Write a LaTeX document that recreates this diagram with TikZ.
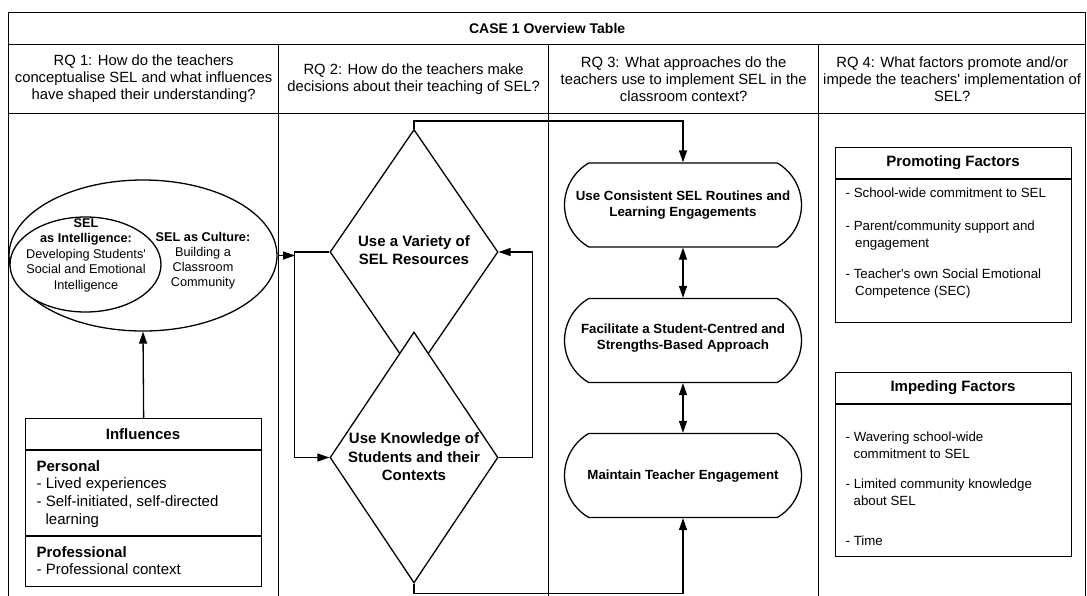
\documentclass[tikz,border=0pt]{standalone}
\usepackage{fontspec}
\setmainfont{Liberation Sans}
\usetikzlibrary{arrows.meta,shapes.geometric,shapes.misc}
\newcommand{\setfs}[2]{\fontsize{#1}{#2}\selectfont}
\newcommand{\apos}{\textquotesingle}

\begin{document}
\begin{tikzpicture}[x=1pt,y=-1pt,line width=1.3pt,
  cell/.style={draw,rectangle,inner sep=0pt,anchor=north west},
  hdr/.style={align=center,font=\setfs{14.8}{17}},
  arr/.style={-{Triangle[length=12pt,width=8pt]}},
  darr/.style={{Triangle[length=12pt,width=8pt]}-{Triangle[length=12pt,width=8pt]}},
  diam/.style={draw,diamond,fill=white,inner sep=0pt,minimum width=168pt},
  term/.style={draw,rounded rectangle,rounded rectangle arc length=120,inner sep=0pt,
               minimum width=237pt,minimum height=84pt},
  boldtxt/.style={align=center,inner sep=0pt},
  item/.style={anchor=north west,inner sep=0pt,align=left,font=\setfs{13.3}{17}},
  infitem/.style={anchor=north west,inner sep=0pt,align=left,font=\setfs{15}{17.7}},
  boxtitle/.style={inner sep=0pt,font=\bfseries\setfs{15}{18}}]
\useasboundingbox (0,0) rectangle (1087,595);

% table frame: title row, question row and four body columns
\node[cell,minimum width=1077pt,minimum height=32pt,font=\bfseries\setfs{14}{17}] (title) at (8,12) {CASE 1 Overview Table};
\node[cell,hdr,minimum width=270pt,minimum height=69pt] (h1) at (8,44)
  {RQ 1: How do the teachers\\conceptualise SEL and what influences\\have shaped their understanding?};
\node[cell,hdr,minimum width=270pt,minimum height=69pt] (h2) at (278,44)
  {RQ 2: How do the teachers make\\decisions about their teaching of SEL?};
\node[cell,hdr,minimum width=270pt,minimum height=69pt] (h3) at (548,44)
  {RQ 3: What approaches do the\\teachers use to implement SEL in the\\classroom context?};
\node[cell,hdr,minimum width=267pt,minimum height=69pt] (h4) at (818,44)
  {RQ 4: What factors promote and/or\\impede the teachers\apos{} implementation of\\SEL?};
\node[cell,minimum width=270pt,minimum height=486pt] (c1) at (8,113) {};
\node[cell,minimum width=270pt,minimum height=486pt] (c2) at (278,113) {};
\node[cell,minimum width=270pt,minimum height=486pt] (c3) at (548,113) {};
\node[cell,minimum width=267pt,minimum height=486pt] (c4) at (818,113) {};

% column 1: conceptions of SEL
\node[draw,ellipse,inner sep=0pt,minimum width=268pt,minimum height=151pt] (outer) at (143,255.5) {};
\node[draw,ellipse,fill=white,inner sep=0pt,minimum width=151pt,minimum height=95pt] (inner) at (85.5,264.5) {};
\node[boldtxt,font=\setfs{12.7}{15.5}] (intxt) at (86,255)
  {\textbf{SEL}\\\textbf{as Intelligence:}\\Developing Students\apos\\Social and Emotional\\Intelligence};
\node[boldtxt,font=\setfs{12.7}{15}] (outtxt) at (203,260.5)
  {\textbf{SEL as Culture:}\\Building a\\Classroom\\Community};

% column 1: influences box
\node[cell,minimum width=236pt,minimum height=168pt] (infl) at (25,418) {};
\draw (25,450) -- (261,450);
\draw (25,536) -- (261,536);
\node[boxtitle] (infltitle) at (143,434) {Influences};
\node[infitem] (personal) at (36,459.5)
  {\textbf{Personal}\\- Lived experiences\\- Self-initiated, self-directed\\\hspace*{9pt}learning};
\node[infitem,font=\setfs{15}{17}] (professional) at (36,545.5)
  {\textbf{Professional}\\- Professional context};

% column 2: decision diamonds
\node[diam,minimum height=245pt] (d1) at (414,252) {};
\node[diam,minimum height=251pt] (d2) at (414,457.5) {};
\node[boldtxt,font=\bfseries\setfs{15}{18}] (d1txt) at (414,250) {Use a Variety of\\SEL Resources};
\node[boldtxt,font=\bfseries\setfs{15}{18.5}] (d2txt) at (414,457) {Use Knowledge of\\Students and their\\Contexts};

% column 3: approaches
\node[term] (s1) at (683,205) {};
\node[term] (s2) at (683,340.5) {};
\node[term] (s3) at (683,475.5) {};
\node[boldtxt,font=\bfseries\setfs{13.3}{16}] (s1txt) at (683,205) {Use Consistent SEL Routines and\\Learning Engagements};
\node[boldtxt,font=\bfseries\setfs{13.3}{16.5}] (s2txt) at (683,338) {Facilitate a Student-Centred and\\Strengths-Based Approach};
\node[boldtxt,font=\bfseries\setfs{13.3}{16}] (s3txt) at (683,476) {Maintain Teacher Engagement};

% column 4: promoting and impeding factors
\node[cell,minimum width=236pt,minimum height=175pt] (pf) at (835,147) {};
\draw (835,179) -- (1071,179);
\node[boxtitle] (pftitle) at (953,163) {Promoting Factors};
\node[item] (pf1) at (845,187.1) {- School-wide commitment to SEL};
\node[item] (pf2) at (845,220.1) {- Parent/community support and\\\hspace*{9.5pt}engagement};
\node[item] (pf3) at (845,268.1) {- Teacher\apos{}s own Social Emotional\\\hspace*{9.5pt}Competence (SEC)};

\node[cell,minimum width=236pt,minimum height=184pt] (imf) at (835,372) {};
\draw (835,404) -- (1071,404);
\node[boxtitle] (imftitle) at (953,388) {Impeding Factors};
\node[item] (im1) at (845,431.1) {- Wavering school-wide\\\hspace*{8pt}commitment to SEL};
\node[item] (im2) at (845,478.1) {- Limited community knowledge\\\hspace*{8pt}about SEL};
\node[item] (im3) at (845,535.1) {- Time};

% connectors
\coordinate (jn) at (295,255.5);
\draw[arr] (outer.east) -- (jn);
\draw[arr] (infl.north) -- (outer.south);
\draw[arr] (d1.west) -- ++(-35,0) |- (d2.west);
\draw[arr] (d2.east) -- ++(34,0) |- (d1.east);
\draw[arr] (d1.north) -- ++(0,-8) -| (s1.north);
\draw[darr] (s1.south) -- (s2.north);
\draw[darr] (s2.south) -- (s3.north);
\draw[arr] (d2.south) -- ++(0,10) -| (s3.south);
\end{tikzpicture}
\end{document}
